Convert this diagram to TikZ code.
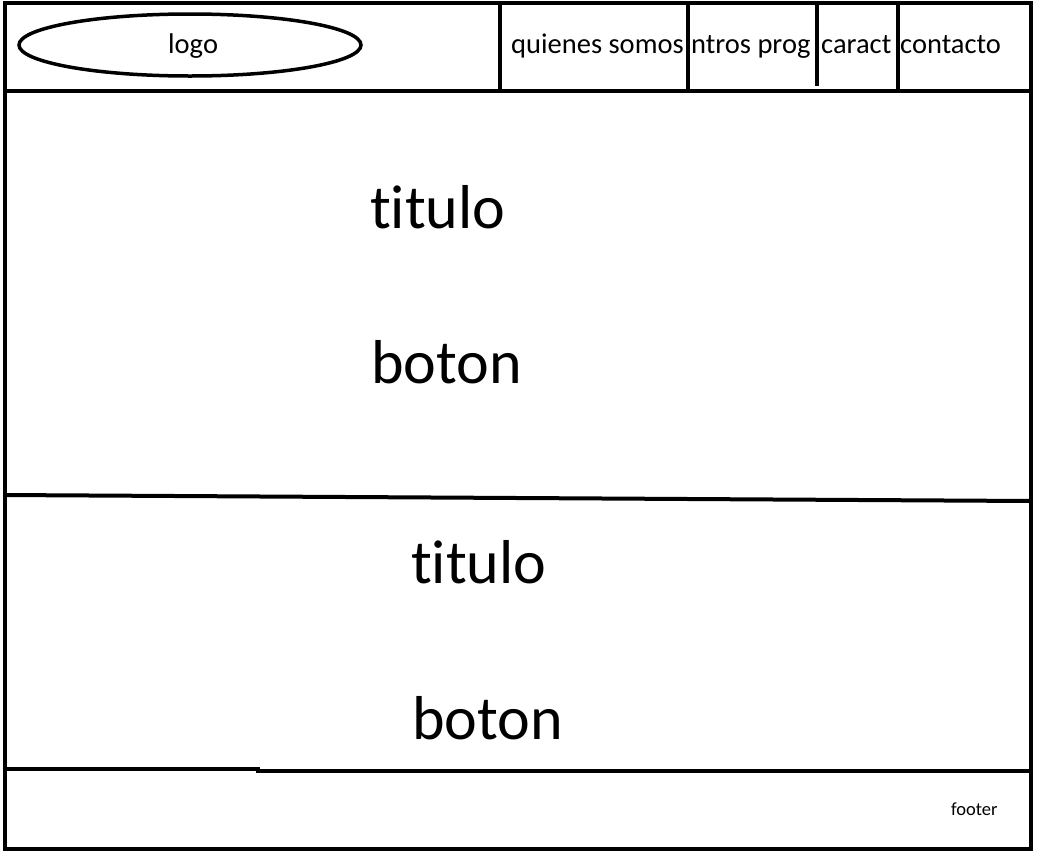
\documentclass[tikz,border=0pt]{standalone}
\usepackage{fontspec}
\setmainfont[Ligatures=NoCommon]{Carlito}
\usepackage{tikz}

\tikzset{
  marco/.style={line width=4},
  menu/.style={inner sep=0, anchor=base west, font=\fontsize{28.5}{30}\selectfont},
  grande/.style={inner sep=0, anchor=base west, font=\fontsize{62}{66}\selectfont},
}

\begin{document}
\begin{tikzpicture}[x=1pt,y=-1pt]
\useasboundingbox (0,0) rectangle (1050,863);

% cabecera
\draw[line width=3.5]
  (190,45) ellipse [x radius=171, y radius=31];
\node[menu] (logo) at (168,53) {logo};

\node[menu] (quienes) at (511,53) {quienes somos};
\node[menu] (nosotros) at (691,53) {ntros prog};
\node[menu] (caract) at (821,53) {caract};
\node[menu] (contacto) at (900,53) {contacto};

\draw[marco]
  (500,3) -- (500,93);
\draw[marco]
  (688,3) -- (688,93);
\draw[marco]
  (817,3) -- (817,86);
\draw[marco]
  (898,3) -- (898,91);

% marco
\draw[marco]
  (5,3) rectangle (1031,849);
\draw[marco]
  (5,91) -- (1031,91);

% primera seccion
\node[grande] (titulo1) at (370,228) {titulo};
\node[grande] (boton1) at (371,383) {boton};

\draw[marco]
  (5,495) -- (1031,501);

% segunda seccion
\node[grande] (titulo2) at (411,583) {titulo};
\node[grande] (boton2) at (412,739) {boton};

\draw[marco]
  (5,769) -- (258,769) -- (258,771) -- (1031,771);

% pie
\node[inner sep=0, anchor=base west, font=\fontsize{18.5}{20}\selectfont]
  (footer) at (951,815) {footer};

\end{tikzpicture}
\end{document}
